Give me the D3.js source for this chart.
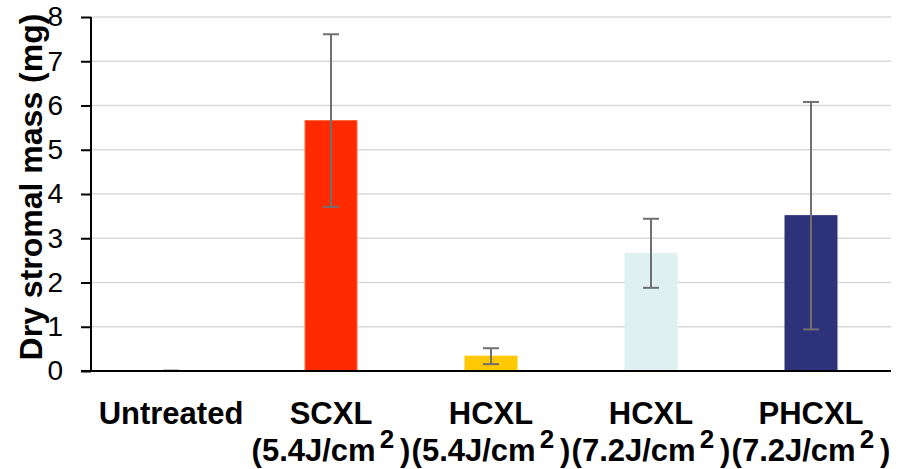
<!DOCTYPE html>
<html>
<head>
<meta charset="utf-8">
<script src="https://cdn.jsdelivr.net/npm/d3@7"></script>
<style>
    body { margin: 0; background: #fff; }
    text { font-family: "Liberation Sans", Arial, sans-serif; }
</style>
</head>
<body>
<script>
// 数据
const categories = ['Untreated', 'SCXL 5.4', 'HCXL 5.4', 'HCXL 7.2', 'PHCXL 7.2'];
const names = ['Untreated', 'SCXL', 'HCXL', 'HCXL', 'PHCXL'];
const doses = ['', '5.4', '5.4', '7.2', '7.2'];
const means = [0.005, 5.66, 0.335, 2.66, 3.51];
const errors = [0.005, 1.95, 0.18, 0.78, 2.57];
const yTicks = [0, 1, 2, 3, 4, 5, 6, 7, 8];

const colors = ['#7f7f7f', '#ff2a00', '#ffc800', '#dff0f0', '#2e3278'];
const edges = ['#7f7f7f', '#ff6a3c', '#ffc800', '#dff0f0', '#2e3278'];

const width = 903;
const height = 469;

const svg = d3.select('body')
    .append('svg')
    .attr('width', width)
    .attr('height', height);

// 比例尺
const x = d3.scaleBand()
    .domain(categories)
    .range([91, 891])
    .paddingInner(0.675)
    .paddingOuter(0.3375);

const y = d3.scaleLinear()
    .domain([0, 8])
    .range([371, 17]);

// 网格线
svg.append('g')
    .selectAll('line')
    .data(yTicks.slice(1))
    .enter()
    .append('line')
    .attr('x1', 91)
    .attr('x2', 891)
    .attr('y1', d => y(d))
    .attr('y2', d => y(d))
    .attr('stroke', '#d9d9d9')
    .attr('stroke-width', 1.5);

// 柱子
svg.append('g')
    .selectAll('rect')
    .data(categories)
    .enter()
    .append('rect')
    .attr('x', d => x(d))
    .attr('y', (d, i) => y(means[i]))
    .attr('width', x.bandwidth())
    .attr('height', (d, i) => y(0) - y(means[i]))
    .attr('fill', (d, i) => colors[i])
    .attr('stroke', (d, i) => edges[i])
    .attr('stroke-width', 1);

// 误差线
const err = svg.append('g')
    .attr('stroke', '#707070')
    .attr('stroke-width', 2)
    .selectAll('g')
    .data(categories)
    .enter()
    .append('g')
    .attr('transform', d => 'translate(' + (x(d) + x.bandwidth() / 2) + ',0)');

err.append('line')
    .attr('y1', (d, i) => y(means[i] + errors[i]))
    .attr('y2', (d, i) => y(means[i] - errors[i]));
err.append('line')
    .attr('x1', -8).attr('x2', 8)
    .attr('y1', (d, i) => y(means[i] + errors[i]))
    .attr('y2', (d, i) => y(means[i] + errors[i]));
err.append('line')
    .attr('x1', -8).attr('x2', 8)
    .attr('y1', (d, i) => y(means[i] - errors[i]))
    .attr('y2', (d, i) => y(means[i] - errors[i]));

// y轴
const yAxis = d3.axisLeft(y)
    .tickValues(yTicks)
    .tickSize(10)
    .tickPadding(18)
    .tickFormat(d3.format('d'));

svg.append('g')
    .attr('transform', 'translate(91,0)')
    .call(yAxis)
    .call(g => g.select('.domain').attr('stroke-width', 2).attr('d', 'M0,' + y(8) + 'V' + y(0)))
    .call(g => g.selectAll('.tick line').attr('stroke-width', 2))
    .call(g => g.selectAll('.tick text')
        .attr('font-size', 28)
        .attr('font-family', '"Liberation Sans", Arial, sans-serif')
        .attr('fill', '#000'));

// x轴
const xAxis = d3.axisBottom(x).tickSize(0).tickPadding(0);

const gx = svg.append('g')
    .attr('transform', 'translate(0,' + y(0) + ')')
    .call(xAxis);

gx.select('.domain')
    .attr('stroke-width', 2)
    .attr('d', 'M81,0H891');

gx.selectAll('.tick text').remove();

// 两行标签
gx.selectAll('.tick').each(function (d, i) {
    const t = d3.select(this).append('text')
        .attr('fill', '#000')
        .attr('font-size', 31)
        .attr('font-weight', 'bold')
        .attr('font-family', '"Liberation Sans", Arial, sans-serif')
        .attr('text-anchor', 'middle');
    t.append('tspan').attr('x', 0).attr('y', 53).text(names[i]);
    if (doses[i]) {
        t.append('tspan').attr('x', 0).attr('y', 90).text('(' + doses[i] + 'J/cm');
        t.append('tspan').attr('dx', 4).attr('dy', -13).attr('font-size', 26).text('2');
        t.append('tspan').attr('dx', 6).attr('dy', 13).text(')');
    }
});

// y轴标题
svg.append('text')
    .attr('transform', 'translate(42,187) rotate(-90)')
    .attr('text-anchor', 'middle')
    .attr('font-size', 32)
    .attr('font-weight', 'bold')
    .attr('fill', '#000')
    .text('Dry stromal mass (mg)');
</script>
</body>
</html>
